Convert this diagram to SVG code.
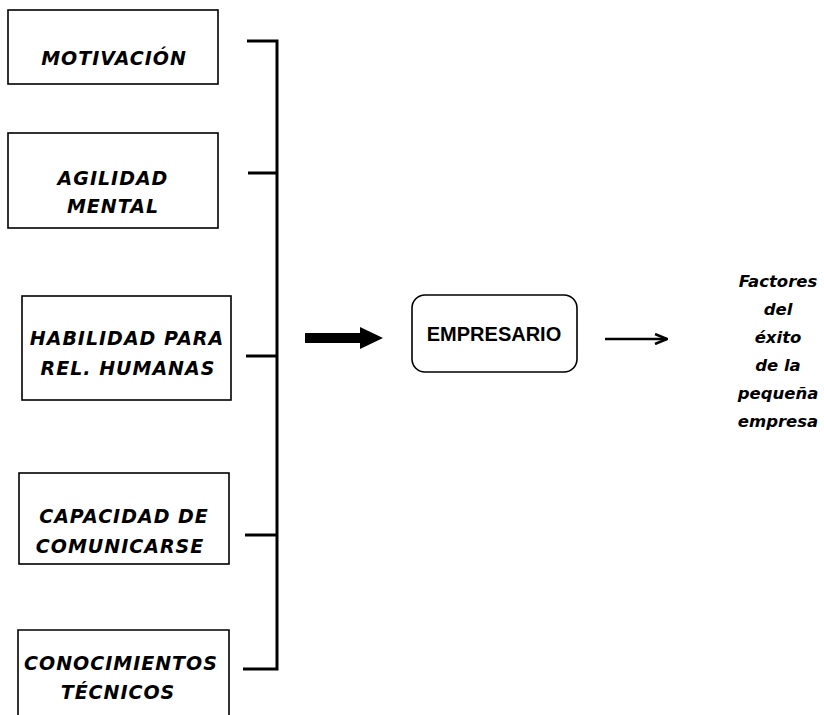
<svg xmlns="http://www.w3.org/2000/svg" width="824" height="715" viewBox="0 0 824 715">
  <style>
    .box { fill: #fff; stroke: #000; stroke-width: 1.6; }
    .lbl { font-family: "DejaVu Sans", "Liberation Sans", sans-serif; font-weight: bold; font-style: italic; font-size: 19px; letter-spacing: 1px; text-anchor: middle; fill: #000; }
    .side { font-family: "DejaVu Sans", "Liberation Sans", sans-serif; font-weight: bold; font-style: italic; font-size: 16.5px; text-anchor: middle; fill: #000; }
    .main { font-family: "Liberation Sans", Arial, sans-serif; font-weight: bold; font-size: 20px; text-anchor: middle; fill: #000; }
    .bracket { fill: none; stroke: #000; stroke-width: 3; }
  </style>
  <defs>
    <marker id="openHead" viewBox="0 0 14 12" refX="13" refY="6" markerWidth="14" markerHeight="12" markerUnits="userSpaceOnUse" orient="auto">
      <path d="M1,1 L13,6 L1,11" fill="none" stroke="#000" stroke-width="2.6"/>
    </marker>
  </defs>
  <rect width="824" height="715" fill="#fff"/>

  <g id="motivacion">
    <rect class="box" x="8" y="10" width="210" height="74"/>
    <text class="lbl" x="114" y="65">MOTIVACIÓN</text>
  </g>

  <g id="agilidad-mental">
    <rect class="box" x="8" y="133" width="210" height="95"/>
    <text class="lbl" x="113" y="185">AGILIDAD</text>
    <text class="lbl" x="113" y="213">MENTAL</text>
  </g>

  <g id="habilidad-rel-humanas">
    <rect class="box" x="22" y="296" width="209" height="104"/>
    <text class="lbl" x="127" y="345">HABILIDAD PARA</text>
    <text class="lbl" x="128" y="375">REL. HUMANAS</text>
  </g>

  <g id="capacidad-comunicarse">
    <rect class="box" x="19" y="473" width="210" height="91"/>
    <text class="lbl" x="124" y="523">CAPACIDAD DE</text>
    <text class="lbl" x="120" y="553">COMUNICARSE</text>
  </g>

  <g id="conocimientos-tecnicos">
    <path class="box" d="M18,716 V630 H229 V716"/>
    <text class="lbl" x="121" y="670">CONOCIMIENTOS</text>
    <text class="lbl" x="118" y="699">TÉCNICOS</text>
  </g>

  <g id="empresario">
    <rect class="box" x="412" y="295" width="165" height="77" rx="13" ry="13"/>
    <text class="main" x="494" y="341">EMPRESARIO</text>
  </g>

  <g id="factores-exito">
    <text class="side" x="778" y="287">Factores</text>
    <text class="side" x="778" y="315">del</text>
    <text class="side" x="778" y="343">éxito</text>
    <text class="side" x="778" y="371">de la</text>
    <text class="side" x="778" y="399">pequeña</text>
    <text class="side" x="778" y="427">empresa</text>
  </g>

  <g id="connectors">
    <!-- bracket collecting the five attributes -->
    <path class="bracket" d="M247,41 H277 V669 H243"/>
    <path class="bracket" d="M248,173 H277"/>
    <path class="bracket" d="M246,356 H277"/>
    <path class="bracket" d="M245,535 H277"/>
    <!-- bold arrow into EMPRESARIO -->
    <path d="M305,333 H360 V327 L383,338 L360,349 V343 H305 Z" fill="#000"/>
    <!-- thin arrow toward the success factors -->
    <line x1="605" y1="339" x2="667" y2="339" stroke="#000" stroke-width="2.4" marker-end="url(#openHead)"/>
  </g>
</svg>
